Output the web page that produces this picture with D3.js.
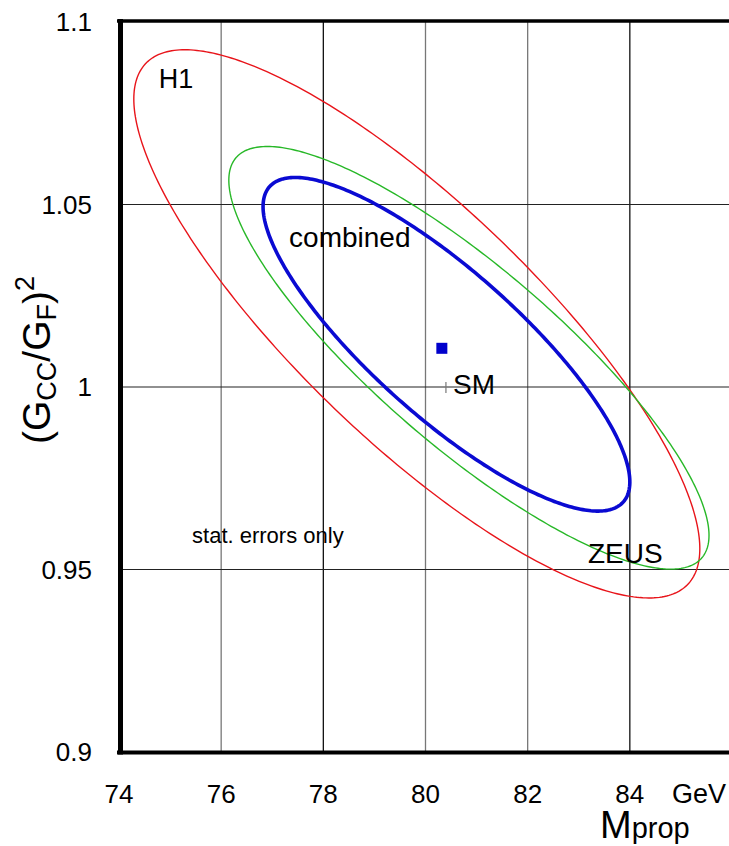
<!DOCTYPE html>
<html>
<head>
<meta charset="utf-8">
<script src="https://cdn.jsdelivr.net/npm/d3@7"></script>
<style>
  html, body { margin: 0; padding: 0; background: #fff; }
  svg { display: block; font-family: "Liberation Sans", Arial, sans-serif; }
</style>
</head>
<body>
<svg id="chart" width="729" height="846"></svg>
<script>
// Axis ticks
const xTicks = [74, 76, 78, 80, 82, 84];
const yTicks = [0.9, 0.95, 1.0, 1.05, 1.1];
const yTickLabels = ["0.9", "0.95", "1", "1.05", "1.1"];

// 1-sigma contours: centre (mass, coupling ratio), half-extents and correlation
const contourNames = ["H1", "ZEUS", "combined"];
const contourCx = [79.83, 80.85, 80.41];
const contourCy = [1.0173, 1.0080, 1.0117];
const contourSx = [5.54, 4.70, 3.59];
const contourSy = [0.0751, 0.0579, 0.0457];
const contourRho = [-0.82, -0.84, -0.825];
const contourColor = ["#e8141a", "#28b828", "#0a0ad2"];
const contourWidth = [1.4, 1.4, 3.6];

// Best fit point and Standard Model expectation
const fitPoint = { m: 80.32, g: 1.0106 };
const smPoint = { m: 80.4, g: 1.0 };

const svg = d3.select("#chart");
const x = d3.scaleLinear().domain([74, 86]).range([119, 732]);
const y = d3.scaleLinear().domain([0.9, 1.1]).range([752, 22]);

// grid
const gridDark = new Set([78, 84]);
svg.append("g").selectAll("line").data(xTicks.slice(1)).join("line")
  .attr("x1", d => x(d)).attr("x2", d => x(d))
  .attr("y1", y(1.1)).attr("y2", y(0.9))
  .attr("stroke", d => gridDark.has(d) ? "#111" : "#777")
  .attr("stroke-width", 1.3);
svg.append("g").selectAll("line").data(yTicks.slice(1, 4)).join("line")
  .attr("x1", x(74)).attr("x2", 729)
  .attr("y1", d => y(d)).attr("y2", d => y(d))
  .attr("stroke", "#222").attr("stroke-width", 1.2);

// contours
function ellipsePoints(i) {
  const pts = [];
  const s = Math.sqrt(1 - contourRho[i] * contourRho[i]);
  for (let k = 0; k < 360; k++) {
    const t = k * Math.PI / 180;
    pts.push([
      contourCx[i] + contourSx[i] * Math.cos(t),
      contourCy[i] + contourSy[i] * (contourRho[i] * Math.cos(t) + s * Math.sin(t))
    ]);
  }
  return pts;
}
const line = d3.line().x(d => x(d[0])).y(d => y(d[1])).curve(d3.curveLinearClosed);
svg.append("g").selectAll("path").data(contourNames).join("path")
  .attr("d", (d, i) => line(ellipsePoints(i)))
  .attr("fill", "none")
  .attr("stroke", (d, i) => contourColor[i])
  .attr("stroke-width", (d, i) => contourWidth[i]);

// fit point and SM marker
svg.append("rect")
  .attr("x", x(fitPoint.m) - 5.5).attr("y", y(fitPoint.g) - 5.5)
  .attr("width", 11).attr("height", 11).attr("fill", "#0000cc");
svg.append("line")
  .attr("x1", x(smPoint.m)).attr("x2", x(smPoint.m))
  .attr("y1", y(smPoint.g) - 5).attr("y2", y(smPoint.g) + 6)
  .attr("stroke", "#777").attr("stroke-width", 1.2);

// frame
svg.append("line").attr("x1", 117).attr("x2", 729).attr("y1", 21).attr("y2", 21)
  .attr("stroke", "#000").attr("stroke-width", 3.5);
svg.append("line").attr("x1", 117).attr("x2", 729).attr("y1", 752.5).attr("y2", 752.5)
  .attr("stroke", "#000").attr("stroke-width", 4);
svg.append("line").attr("x1", 120.5).attr("x2", 120.5).attr("y1", 19).attr("y2", 754.5)
  .attr("stroke", "#000").attr("stroke-width", 5);

// tick labels
svg.append("g").selectAll("text").data(yTicks).join("text")
  .attr("x", 92).attr("y", d => y(d) + 9)
  .attr("text-anchor", "end").attr("font-size", 26)
  .text((d, i) => yTickLabels[i]);
svg.append("g").selectAll("text").data(xTicks).join("text")
  .attr("x", d => x(d)).attr("y", 803)
  .attr("text-anchor", "middle").attr("font-size", 26)
  .text(d => d);
svg.append("text").attr("x", 672).attr("y", 803).attr("font-size", 27).text("GeV");

// axis titles
const xt = svg.append("text").attr("x", 600).attr("y", 838);
xt.append("tspan").attr("font-size", 38).text("M");
xt.append("tspan").attr("font-size", 29).text("prop");

const yt = svg.append("text")
  .attr("transform", "translate(50,360) rotate(-90)")
  .attr("text-anchor", "middle").attr("font-size", 39);
yt.append("tspan").text("(G");
yt.append("tspan").attr("font-size", 27).attr("dy", 6).text("CC");
yt.append("tspan").attr("dy", -6).text("/G");
yt.append("tspan").attr("font-size", 27).attr("dy", 6).text("F");
yt.append("tspan").attr("dy", -6).text(")");
yt.append("tspan").attr("font-size", 27).attr("dy", -16).text("2");

// annotations
const notes = [
  { t: "H1", m: 74.78, g: 1.0819, fs: 27 },
  { t: "combined", m: 77.33, g: 1.0384, fs: 28 },
  { t: "SM", m: 80.54, g: 0.9981, fs: 28 },
  { t: "ZEUS", m: 83.18, g: 0.9518, fs: 28 },
  { t: "stat. errors only", m: 75.43, g: 0.9573, fs: 22 }
];
svg.append("g").selectAll("text").data(notes).join("text")
  .attr("x", d => x(d.m)).attr("y", d => y(d.g))
  .attr("font-size", d => d.fs)
  .text(d => d.t);
</script>
</body>
</html>
